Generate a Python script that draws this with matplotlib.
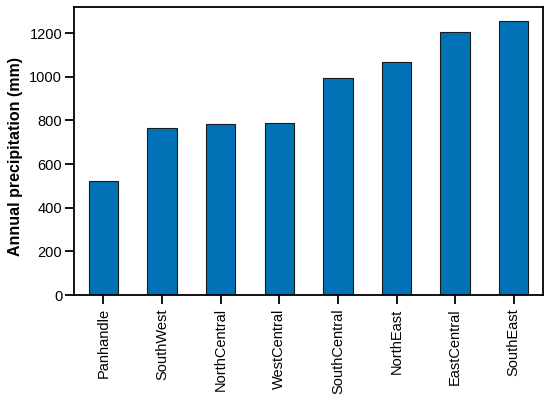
import matplotlib
matplotlib.use('Agg')
import matplotlib.pyplot as plt

regions = ['Panhandle', 'SouthWest', 'NorthCentral', 'WestCentral',
           'SouthCentral', 'NorthEast', 'EastCentral', 'SouthEast']
precip = [524, 767, 782, 790, 993, 1066, 1205, 1257]
yticks = [0, 200, 400, 600, 800, 1000, 1200]

plt.rcParams['font.family'] = ['Liberation Sans', 'DejaVu Sans']

fig = plt.figure(figsize=(5.5, 4.07), dpi=100)
ax = fig.add_axes([0.1345, 0.275, 0.853, 0.708])

x = range(len(regions))
ax.bar(x, precip, width=0.5, color='#0072B5', edgecolor='#1a1a1a', linewidth=0.8)

ax.set_xlim(-0.5, len(regions) - 0.5)
ax.set_ylim(0, 1320)
ax.set_yticks(yticks)
ax.set_xticks(list(x))
ax.set_xticklabels(regions, rotation=90, fontsize=10.5)
ax.tick_params(axis='y', labelsize=10.5, pad=2)
ax.tick_params(axis='x', pad=3)
ax.tick_params(direction='out', length=6.5, width=1.3)
for s in ax.spines.values():
    s.set_linewidth(1.3)

ax.set_ylabel('Annual precipitation (mm)', fontsize=11.5, fontweight='bold')
ax.yaxis.set_label_coords(-0.108, 0.48)

fig.savefig('out.png', dpi=100)
